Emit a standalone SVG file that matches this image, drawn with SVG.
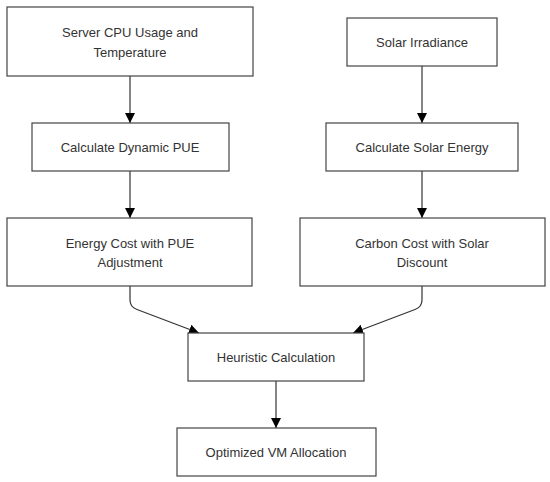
<svg xmlns="http://www.w3.org/2000/svg" width="550" height="482" viewBox="0 0 550 482">
<style>
.n rect{fill:#fff;stroke:#444;stroke-width:1.2}
.n text{font-family:"Liberation Sans",Arial,sans-serif;font-size:13px;fill:#333;text-anchor:middle;dominant-baseline:central}
.e path{fill:none;stroke:#333;stroke-width:1.2}
</style>
<defs>
<marker id="ah" viewBox="0 0 10 10" refX="10" refY="5" markerWidth="10" markerHeight="10" markerUnits="userSpaceOnUse" orient="auto">
<path d="M0,0 L10,5 L0,10 z" fill="#000"/>
</marker>
</defs>
<rect width="550" height="482" fill="#fff"/>
<g class="e">
<path d="M130,76 L130,123" marker-end="url(#ah)"/>
<path d="M130,171 L130,218" marker-end="url(#ah)"/>
<path d="M422,66 L422,123" marker-end="url(#ah)"/>
<path d="M422,171 L422,218" marker-end="url(#ah)"/>
<path d="M130,286 L130,300 Q130,307 137,309.5 L199,333" marker-end="url(#ah)"/>
<path d="M422,286 L422,300 Q422,307 415,309.5 L353,333" marker-end="url(#ah)"/>
<path d="M276,381 L276,428" marker-end="url(#ah)"/>
</g>
<g id="n1" class="n"><rect x="7" y="7" width="246" height="69"/><text x="130" y="32">Server CPU Usage and</text><text x="130" y="52">Temperature</text></g>
<g id="n2" class="n"><rect x="32" y="123" width="197" height="48"/><text x="130" y="147">Calculate Dynamic PUE</text></g>
<g id="n3" class="n"><rect x="347" y="18" width="150" height="48"/><text x="422" y="42">Solar Irradiance</text></g>
<g id="n4" class="n"><rect x="326" y="123" width="192" height="48"/><text x="422" y="147">Calculate Solar Energy</text></g>
<g id="n5" class="n"><rect x="7" y="218" width="245" height="68"/><text x="130" y="243">Energy Cost with PUE</text><text x="130" y="262">Adjustment</text></g>
<g id="n6" class="n"><rect x="300" y="218" width="245" height="68"/><text x="422" y="243">Carbon Cost with Solar</text><text x="422" y="262">Discount</text></g>
<g id="n7" class="n"><rect x="188" y="333" width="176" height="48"/><text x="276" y="357">Heuristic Calculation</text></g>
<g id="n8" class="n"><rect x="177" y="428" width="199" height="48"/><text x="276" y="452">Optimized VM Allocation</text></g>
</svg>
